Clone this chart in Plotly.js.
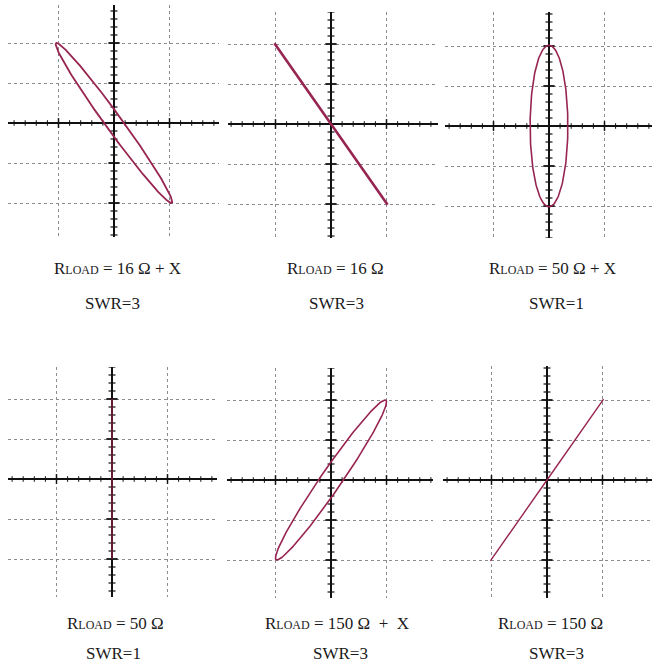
<!DOCTYPE html>
<html>
<head>
<meta charset="utf-8">
<script src="https://cdn.plot.ly/plotly-3.0.1.min.js"></script>
<style>
  html, body { margin: 0; padding: 0; background: #ffffff; }
  #chart { width: 652px; height: 664px; }
</style>
</head>
<body>
<div id="chart"></div>
<script>
// ---------- DATA (in screen divisions) ----------
const loadLabels = [
  'R<span style="font-size:12px">LOAD</span> = 16 Ω + X',
  'R<span style="font-size:12px">LOAD</span> = 16 Ω',
  'R<span style="font-size:12px">LOAD</span> = 50 Ω + X',
  'R<span style="font-size:12px">LOAD</span> = 50 Ω',
  'R<span style="font-size:12px">LOAD</span> = 150 Ω \u00a0+\u00a0 X',
  'R<span style="font-size:12px">LOAD</span> = 150 Ω'
];
const swrLabels = ['SWR=3', 'SWR=3', 'SWR=1', 'SWR=1', 'SWR=3', 'SWR=3'];
// horizontal (X) deflection amplitude, divisions
const xAmplitude = [1.05, 1.02, 0.34, 0.0, 1.0, 1.02];
// vertical (Y) deflection amplitude, divisions
const yAmplitude = [2.0, 2.02, 2.02, 2.0, 2.0, 2.02];
// phase between the two deflection signals, degrees
const phaseDeg = [170, 180, 90, 0, 13, 0];

// ---------- LAYOUT CONSTANTS (pixels) ----------
const W = 652, H = 664;
const PX_X = 55.5, PX_Y = 40;           // pixels per division
const boxes = [
  {cx: 114, cy: 123, x0: 8,   x1: 219, y0: 5,   y1: 237},
  {cx: 331, cy: 124, x0: 228, x1: 438, y0: 12,  y1: 238},
  {cx: 549, cy: 126, x0: 445, x1: 652, y0: 12,  y1: 238},
  {cx: 112, cy: 479, x0: 8,   x1: 217, y0: 367, y1: 597},
  {cx: 331, cy: 480, x0: 227, x1: 433, y0: 368, y1: 598},
  {cx: 547, cy: 480, x0: 443, x1: 652, y0: 366, y1: 598}
];
const loadPos = [[117, 268], [335, 268], [552, 268], [115, 623], [337, 623], [550, 623]];
const swrPos  = [[112, 303], [336, 303], [556, 303], [113, 653], [340, 653], [556, 653]];
const curveColor = '#972552';
const curveWidth = [1.8, 2.6, 1.6, 1.2, 1.6, 1.4];

const traces = [];
const layout = {
  width: W, height: H,
  margin: {l: 0, r: 0, t: 0, b: 0},
  paper_bgcolor: '#ffffff',
  plot_bgcolor: 'rgba(0,0,0,0)',
  showlegend: false,
  annotations: []
};

boxes.forEach((b, i) => {
  const n = i + 1;
  const xa = 'x' + (n === 1 ? '' : n), ya = 'y' + (n === 1 ? '' : n);
  const xKey = 'xaxis' + (n === 1 ? '' : n), yKey = 'yaxis' + (n === 1 ? '' : n);
  const xr = [(b.x0 - b.cx) / PX_X, (b.x1 - b.cx) / PX_X];
  const yr = [(b.cy - b.y1) / PX_Y, (b.cy - b.y0) / PX_Y];
  const common = {
    showticklabels: false, ticks: '', showline: false,
    showgrid: true, gridcolor: '#8c8c8c', gridwidth: 1, griddash: '3px,3px',
    zeroline: true, zerolinecolor: '#111111', zerolinewidth: 2,
    tick0: 0, dtick: 1, fixedrange: true
  };
  layout[xKey] = Object.assign({}, common, {
    domain: [b.x0 / W, b.x1 / W], range: xr, anchor: ya
  });
  layout[yKey] = Object.assign({}, common, {
    domain: [1 - b.y1 / H, 1 - b.y0 / H], range: yr, anchor: xa
  });

  // minor / major tick marks on the centre cross (5 subdivisions per division)
  const hx = [], hxMaj = [], vy = [], vyMaj = [];
  for (let k = Math.ceil(xr[0] * 5); k <= Math.floor(xr[1] * 5); k++) {
    if (k === 0) continue;
    (k % 5 === 0 ? hxMaj : hx).push(k / 5);
  }
  for (let k = Math.ceil(yr[0] * 5); k <= Math.floor(yr[1] * 5); k++) {
    if (k === 0) continue;
    (k % 5 === 0 ? vyMaj : vy).push(k / 5);
  }
  const tickTrace = (xs, ys, sym, size, w) => ({
    type: 'scatter', mode: 'markers', xaxis: xa, yaxis: ya,
    x: xs, y: ys, hoverinfo: 'skip',
    marker: {symbol: sym, size: size, color: '#111', line: {color: '#111', width: w}}
  });
  traces.push(tickTrace(hx, hx.map(() => 0), 'line-ns', 4, 1));
  traces.push(tickTrace(hxMaj, hxMaj.map(() => 0), 'line-ns', 7, 1.5));
  traces.push(tickTrace(vy.map(() => 0), vy, 'line-ew', 5, 1.2));
  traces.push(tickTrace(vyMaj.map(() => 0), vyMaj, 'line-ew', 8, 1.8));

  // Lissajous figure from the read amplitudes and phase
  const ph = phaseDeg[i] * Math.PI / 180;
  const cx = [], cy = [];
  for (let s = 0; s <= 360; s += 2) {
    const t = s * Math.PI / 180;
    cx.push(xAmplitude[i] * Math.sin(t));
    cy.push(yAmplitude[i] * Math.sin(t + ph));
  }
  traces.push({
    type: 'scatter', mode: 'lines', xaxis: xa, yaxis: ya,
    x: cx, y: cy, hoverinfo: 'skip',
    line: {color: curveColor, width: curveWidth[i]}
  });

  const font = {family: 'Liberation Serif, Times New Roman, serif', size: 17, color: '#1a1a1a'};
  layout.annotations.push({
    xref: 'paper', yref: 'paper', x: loadPos[i][0] / W, y: 1 - loadPos[i][1] / H,
    xanchor: 'center', yanchor: 'middle', showarrow: false, text: loadLabels[i], font: font
  });
  layout.annotations.push({
    xref: 'paper', yref: 'paper', x: swrPos[i][0] / W, y: 1 - swrPos[i][1] / H,
    xanchor: 'center', yanchor: 'middle', showarrow: false, text: swrLabels[i], font: font
  });
});

Plotly.newPlot('chart', traces, layout, {displayModeBar: false, staticPlot: true});
</script>
</body>
</html>
